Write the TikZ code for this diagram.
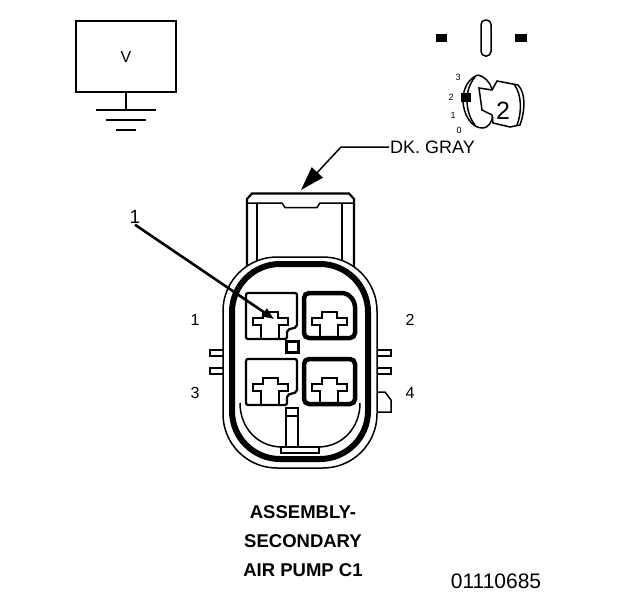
\documentclass[tikz,border=0pt]{standalone}
\usepackage{fontspec}
\setmainfont{Liberation Sans}
\usetikzlibrary{arrows.meta, positioning}

\begin{document}
\begin{tikzpicture}[
                x=1pt, y=-1pt,
                line join=miter,
                thinline/.style={draw=black, line width=1.5pt},
                midline/.style={draw=black, line width=2.2pt},
                heavyline/.style={draw=black, line width=4.5pt},
                leader/.style={draw=black, line width=2.6pt, -{Triangle[length=12pt, width=9pt]}},
                graylead/.style={draw=black, line width=1.5pt, -{Triangle[length=24pt, width=15pt]}},
                pinlabel/.style={font=\fontsize{16}{18}\selectfont, inner sep=1pt},
                titletext/.style={font=\fontsize{18.5}{20}\selectfont\bfseries, inner sep=0pt},
                keylabel/.style={font=\fontsize{9}{10}\selectfont, inner sep=0pt}
                ]
                \useasboundingbox (0,0) rectangle (624,600);

                %% Meter box and ground
                \node[draw=black, line width=1.5pt, minimum width=100pt, minimum height=71pt, inner sep=0pt,
                      font=\fontsize{16}{18}\selectfont] (meter) at (126,56.5) {V};
                \coordinate (gndtop) at (126,110);
                \draw[thinline] (meter.south) -- (gndtop);
                \foreach \y/\half in {110/30, 120/20, 130/10} {
                    \draw[thinline] (126-\half,\y) -- (126+\half,\y);
                }

                %% Key
                \fill (436,34) rectangle (447,42);
                \fill (515,34) rectangle (527,42);
                \draw[thinline, rounded corners=4.5pt] (481,20) rectangle (491,56);
                \draw[thinline] (478,75) .. controls (469,78) and (463,88) .. (463,100)
                    .. controls (463,115) and (472,128) .. (482,128)
                    .. controls (489,128) and (491,122) .. (493,117);
                \draw[thinline] (478,75) .. controls (484,76) and (490,82) .. (492,89);
                \draw[thinline] (475,77) .. controls (470,83) and (467,91) .. (467,100)
                    .. controls (467,110) and (470,119) .. (475,125);
                \draw[thinline] (479,88) -- (492,90) -- (497,81) -- (518,85)
                    .. controls (525,92) and (526,108) .. (520,125)
                    -- (510,127) -- (493,123) -- (492,115) -- (482,110) -- cycle;
                \draw[thinline] (514,84) .. controls (522,95) and (522,112) .. (517,125);
                \fill (461,93) rectangle (471,102);
                \node[font=\fontsize{25}{27}\selectfont, inner sep=0pt] (keynum) at (503,111) {2};
                \node[keylabel] (keythree) at (458,77) {3};
                \node[keylabel] (keytwo) at (451,97) {2};
                \node[keylabel] (keyone) at (453,115) {1};
                \node[keylabel] (keyzero) at (459,130) {0};

                %% Locking tab
                \draw[midline] (247,270) -- (247,199) -- (252,193.5) -- (349,193.5) -- (354,199) -- (354,270);
                \draw[thinline] (247,203) -- (282,203) -- (285,207.5) -- (317,207.5) -- (320,203) -- (354,203);
                \draw[thinline] (257,203) -- (257,270);
                \draw[thinline] (342,203) -- (342,270);

                % Side ribs
                \foreach \y in {350, 368} {
                    \draw[midline] (225,\y) -- (210,\y) -- (210,\y+6) -- (225,\y+6);
                    \draw[midline] (375,\y) -- (391,\y) -- (391,\y+6) -- (375,\y+6);
                }
                \draw[thinline] (375,392) -- (385,392) -- (391,400) -- (391,412) -- (375,412);

                %% Housing
                \draw[thinline, fill=white, rounded corners=54pt] (223,257) rectangle (377,468);
                \draw[draw=black, line width=6pt, rounded corners=48pt] (232,264) rectangle (368,459);
                \draw[thinline] (240,403) .. controls (240,428) and (258,447) .. (282,447) -- (318,447)
                    .. controls (342,447) and (360,428) .. (360,403);

                %% Cavities
                \draw[midline, rounded corners=2pt] (246,293) -- (297,293) -- (297,327) -- (287,330) -- (287,339) -- (246,339) -- cycle;
                \draw[heavyline, rounded corners=5pt] (304,293) -- (347,293) -- (355,302) -- (355,338) -- (304,338) -- cycle;
                \draw[midline, rounded corners=2pt] (246,359) -- (297,359) -- (297,392) -- (287,395) -- (287,405) -- (246,405) -- cycle;
                \draw[heavyline, rounded corners=5pt] (304,359) -- (355,359) -- (355,404) -- (304,404) -- cycle;

                % Terminal shapes
                \foreach \xo/\yo/\yb in {253/318/339, 312/318/338, 253/384/405, 312/384/404} {
                    \draw[midline] (\xo+8,\yb) -- (\xo+8,\yo+7) -- (\xo,\yo+7) -- (\xo,\yo) -- (\xo+10,\yo) -- (\xo+10,\yo-6)
                        -- (\xo+25,\yo-6) -- (\xo+25,\yo) -- (\xo+35,\yo) -- (\xo+35,\yo+7) -- (\xo+26,\yo+7) -- (\xo+26,\yb);
                }

                %% Center details
                \draw[line width=3pt, draw=black] (286.5,341.5) rectangle (298.5,352);
                \draw[midline] (286,408) rectangle (298,416);
                \draw[midline] (286,416) -- (286,447);
                \draw[midline] (298,416) -- (298,447);
                \draw[midline] (281,447) rectangle (319,453);

                %% Labels
                \node[pinlabel] (pinone) at (195,320) {1};
                \node[pinlabel] (pintwo) at (410,320) {2};
                \node[pinlabel] (pinthree) at (195,393) {3};
                \node[pinlabel] (pinfour) at (410,393) {4};

                \node[font=\fontsize{19}{21}\selectfont, inner sep=1pt] (callout) at (135,217) {1};
                \coordinate (calloutend) at (274,319);
                \draw[leader] (callout.south) -- (calloutend);

                \node[font=\fontsize{18}{20}\selectfont, inner sep=1pt, anchor=west] (graylabel) at (389,147) {DK. GRAY};
                \coordinate (grayend) at (301,190);
                \draw[graylead] (graylabel.west) -- (341,147) -- (grayend);

                \node[titletext] (titleone) at (303,512) {ASSEMBLY-};
                \node[titletext] (titletwo) at (303,541) {SECONDARY};
                \node[titletext] (titlethree) at (303,570) {AIR PUMP C1};
                \node[font=\fontsize{21}{23}\selectfont, inner sep=0pt] (partno) at (496,581) {01110685};
\end{tikzpicture}
\end{document}
